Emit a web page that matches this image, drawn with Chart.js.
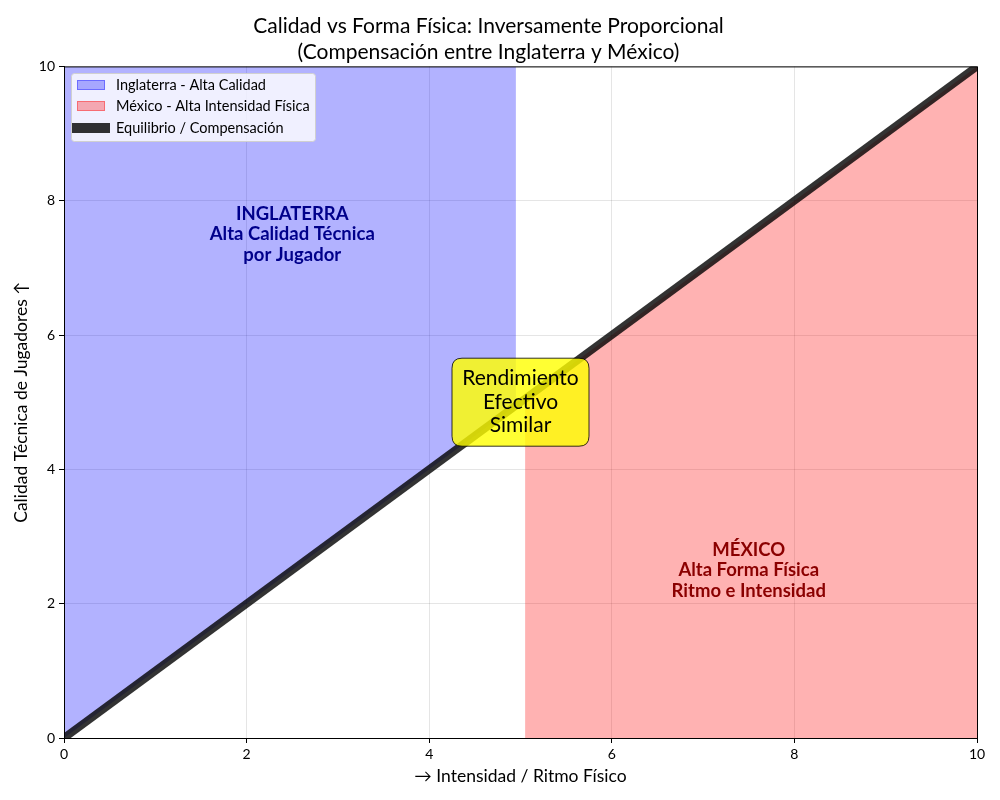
<!DOCTYPE html>
<html>
<head>
<meta charset="utf-8">
<script src="https://cdn.jsdelivr.net/npm/chart.js@4"></script>
<style>
  html, body { margin: 0; padding: 0; background: #fff; }
  #wrap { width: 1000px; height: 800px; }
</style>
</head>
<body>
<div id="wrap"><canvas id="grafico"></canvas></div>
<script>
// datos
const equilibrioX = [0, 10];
const equilibrioY = [0, 10];
const inglaterraX = [0, 4.95];
const inglaterraY = [0, 4.95];
const mexicoX = [5.05, 10];
const mexicoY = [5.05, 10];
const ticksEje = [0, 2, 4, 6, 8, 10];

const tituloLineas = ['Calidad vs Forma Física: Inversamente Proporcional', '(Compensación entre Inglaterra y México)'];
const etiquetasLeyenda = ['Inglaterra - Alta Calidad', 'México - Alta Intensidad Física', 'Equilibrio / Compensación'];
const textoInglaterra = ['INGLATERRA', 'Alta Calidad Técnica', 'por Jugador'];
const textoMexico = ['MÉXICO', 'Alta Forma Física', 'Ritmo e Intensidad'];
const textoCentro = ['Rendimiento', 'Efectivo', 'Similar'];
const posInglaterra = [2.5, 7.5];
const posMexico = [7.5, 2.5];
const posCentro = [5, 5];

function puntos(xs, ys) {
    return xs.map((x, i) => ({ x: x, y: ys[i] }));
}

const FUENTE = 'Lato';
Chart.defaults.font.family = FUENTE;
Chart.defaults.color = '#000';

function roundRect(ctx, x, y, w, h, r) {
    ctx.beginPath();
    ctx.moveTo(x + r, y);
    ctx.lineTo(x + w - r, y);
    ctx.quadraticCurveTo(x + w, y, x + w, y + r);
    ctx.lineTo(x + w, y + h - r);
    ctx.quadraticCurveTo(x + w, y + h, x + w - r, y + h);
    ctx.lineTo(x + r, y + h);
    ctx.quadraticCurveTo(x, y + h, x, y + h - r);
    ctx.lineTo(x, y + r);
    ctx.quadraticCurveTo(x, y, x + r, y);
    ctx.closePath();
}

const extras = {
    id: 'extras',
    afterDatasetsDraw(chart) {
        const { ctx, chartArea: a } = chart;
        ctx.save();
        ctx.strokeStyle = '#000';
        ctx.lineWidth = 1;
        ctx.strokeRect(a.left + 0.5, a.top + 0.5, a.right - a.left, a.bottom - a.top);
        ctx.restore();
    },
    afterDraw(chart) {
        const { ctx, scales } = chart;
        const sx = scales.x, sy = scales.y;
        ctx.save();
        ctx.textAlign = 'center';
        ctx.textBaseline = 'middle';

        // textos de regiones
        function bloque(lineas, pos, color) {
            ctx.fillStyle = color;
            ctx.font = 'bold 18.5px ' + FUENTE;
            const cx = sx.getPixelForValue(pos[0]);
            const cy = sy.getPixelForValue(pos[1]);
            lineas.forEach((t, i) => ctx.fillText(t, cx, cy + (i - 1) * 20.5));
        }
        bloque(textoInglaterra, posInglaterra, '#00008B');
        bloque(textoMexico, posMexico, '#8B0000');

        // caja central
        const cx = sx.getPixelForValue(posCentro[0]);
        const cy = sy.getPixelForValue(posCentro[1]);
        roundRect(ctx, cx - 68.5, cy - 44, 137, 88, 10);
        ctx.fillStyle = 'rgba(255, 255, 0, 0.8)';
        ctx.fill();
        ctx.strokeStyle = 'rgba(0, 0, 0, 0.8)';
        ctx.lineWidth = 1;
        ctx.stroke();
        ctx.fillStyle = '#000';
        ctx.font = '21px ' + FUENTE;
        textoCentro.forEach((t, i) => ctx.fillText(t, cx, cy + (i - 1) * 23.5));

        // leyenda
        const lx = 71, ly = 73;
        roundRect(ctx, lx + 0.5, ly + 0.5, 244, 68, 3);
        ctx.fillStyle = 'rgba(255, 255, 255, 0.8)';
        ctx.fill();
        ctx.strokeStyle = '#d0d0d0';
        ctx.stroke();
        const filas = [85, 106, 128];
        const colores = ['rgba(0, 0, 255, 0.3)', 'rgba(255, 0, 0, 0.3)'];
        const bordes = ['rgba(0, 0, 255, 0.35)', 'rgba(255, 0, 0, 0.35)'];
        ctx.textAlign = 'left';
        ctx.font = '14.5px ' + FUENTE;
        etiquetasLeyenda.forEach((t, i) => {
            const y = filas[i];
            if (i < 2) {
                ctx.fillStyle = colores[i];
                ctx.fillRect(77, y - 5, 28, 10);
                ctx.strokeStyle = bordes[i];
                ctx.strokeRect(77.5, y - 4.5, 27, 9);
            } else {
                ctx.fillStyle = 'rgba(0, 0, 0, 0.8)';
                ctx.fillRect(72, y - 5, 38, 10);
            }
            ctx.fillStyle = '#000';
            ctx.fillText(t, 116, y);
        });
        ctx.restore();
    }
};

new Chart(document.getElementById('grafico'), {
    type: 'line',
    data: {
        datasets: [
            {
                label: etiquetasLeyenda[2],
                data: puntos(equilibrioX, equilibrioY),
                borderColor: 'rgba(0, 0, 0, 0.8)',
                borderWidth: 8,
                pointRadius: 0,
                fill: false,
                clip: 0,
                order: 0
            },
            {
                label: etiquetasLeyenda[0],
                data: puntos(inglaterraX, inglaterraY),
                borderColor: 'rgba(0, 0, 255, 0.3)',
                borderWidth: 0,
                backgroundColor: 'rgba(0, 0, 255, 0.3)',
                pointRadius: 0,
                fill: 'end',
                clip: 0,
                order: 1
            },
            {
                label: etiquetasLeyenda[1],
                data: puntos(mexicoX, mexicoY),
                borderColor: 'rgba(255, 0, 0, 0.3)',
                borderWidth: 0,
                backgroundColor: 'rgba(255, 0, 0, 0.3)',
                pointRadius: 0,
                fill: 'start',
                clip: 0,
                order: 2
            }
        ]
    },
    options: {
        responsive: true,
        maintainAspectRatio: false,
        animation: false,
        layout: { padding: { top: 0, right: 23, bottom: 0, left: 0 } },
        plugins: {
            legend: { display: false },
            tooltip: { enabled: false },
            title: {
                display: true,
                text: tituloLineas,
                font: { size: 21, weight: 'normal', lineHeight: 1.2 },
                color: '#000',
                padding: { top: 14, bottom: 2 }
            }
        },
        scales: {
            x: {
                type: 'linear',
                min: 0,
                max: 10,
                afterFit(scale) { scale.height = 62; },
                afterBuildTicks(scale) { scale.ticks = ticksEje.map(v => ({ value: v })); },
                ticks: { font: { size: 14 }, color: '#000', padding: 3 },
                grid: { color: 'rgba(0, 0, 0, 0.1)', tickColor: '#000', tickLength: 5 },
                border: { display: true, color: '#000' },
                title: {
                    display: true,
                    text: '→ Intensidad / Ritmo Físico',
                    font: { size: 17.5 },
                    color: '#000',
                    padding: { top: 0, bottom: 13 }
                }
            },
            y: {
                type: 'linear',
                min: 0,
                max: 10,
                afterFit(scale) { scale.width = 64; },
                afterBuildTicks(scale) { scale.ticks = ticksEje.map(v => ({ value: v })); },
                ticks: { font: { size: 14 }, color: '#000', padding: 4 },
                grid: { color: 'rgba(0, 0, 0, 0.1)', tickColor: '#000', tickLength: 5 },
                border: { display: true, color: '#000' },
                title: {
                    display: true,
                    text: 'Calidad Técnica de Jugadores ↑',
                    font: { size: 17.5 },
                    color: '#000',
                    padding: { top: 11, bottom: 0 }
                }
            }
        }
    },
    plugins: [extras]
});
</script>
</body>
</html>
